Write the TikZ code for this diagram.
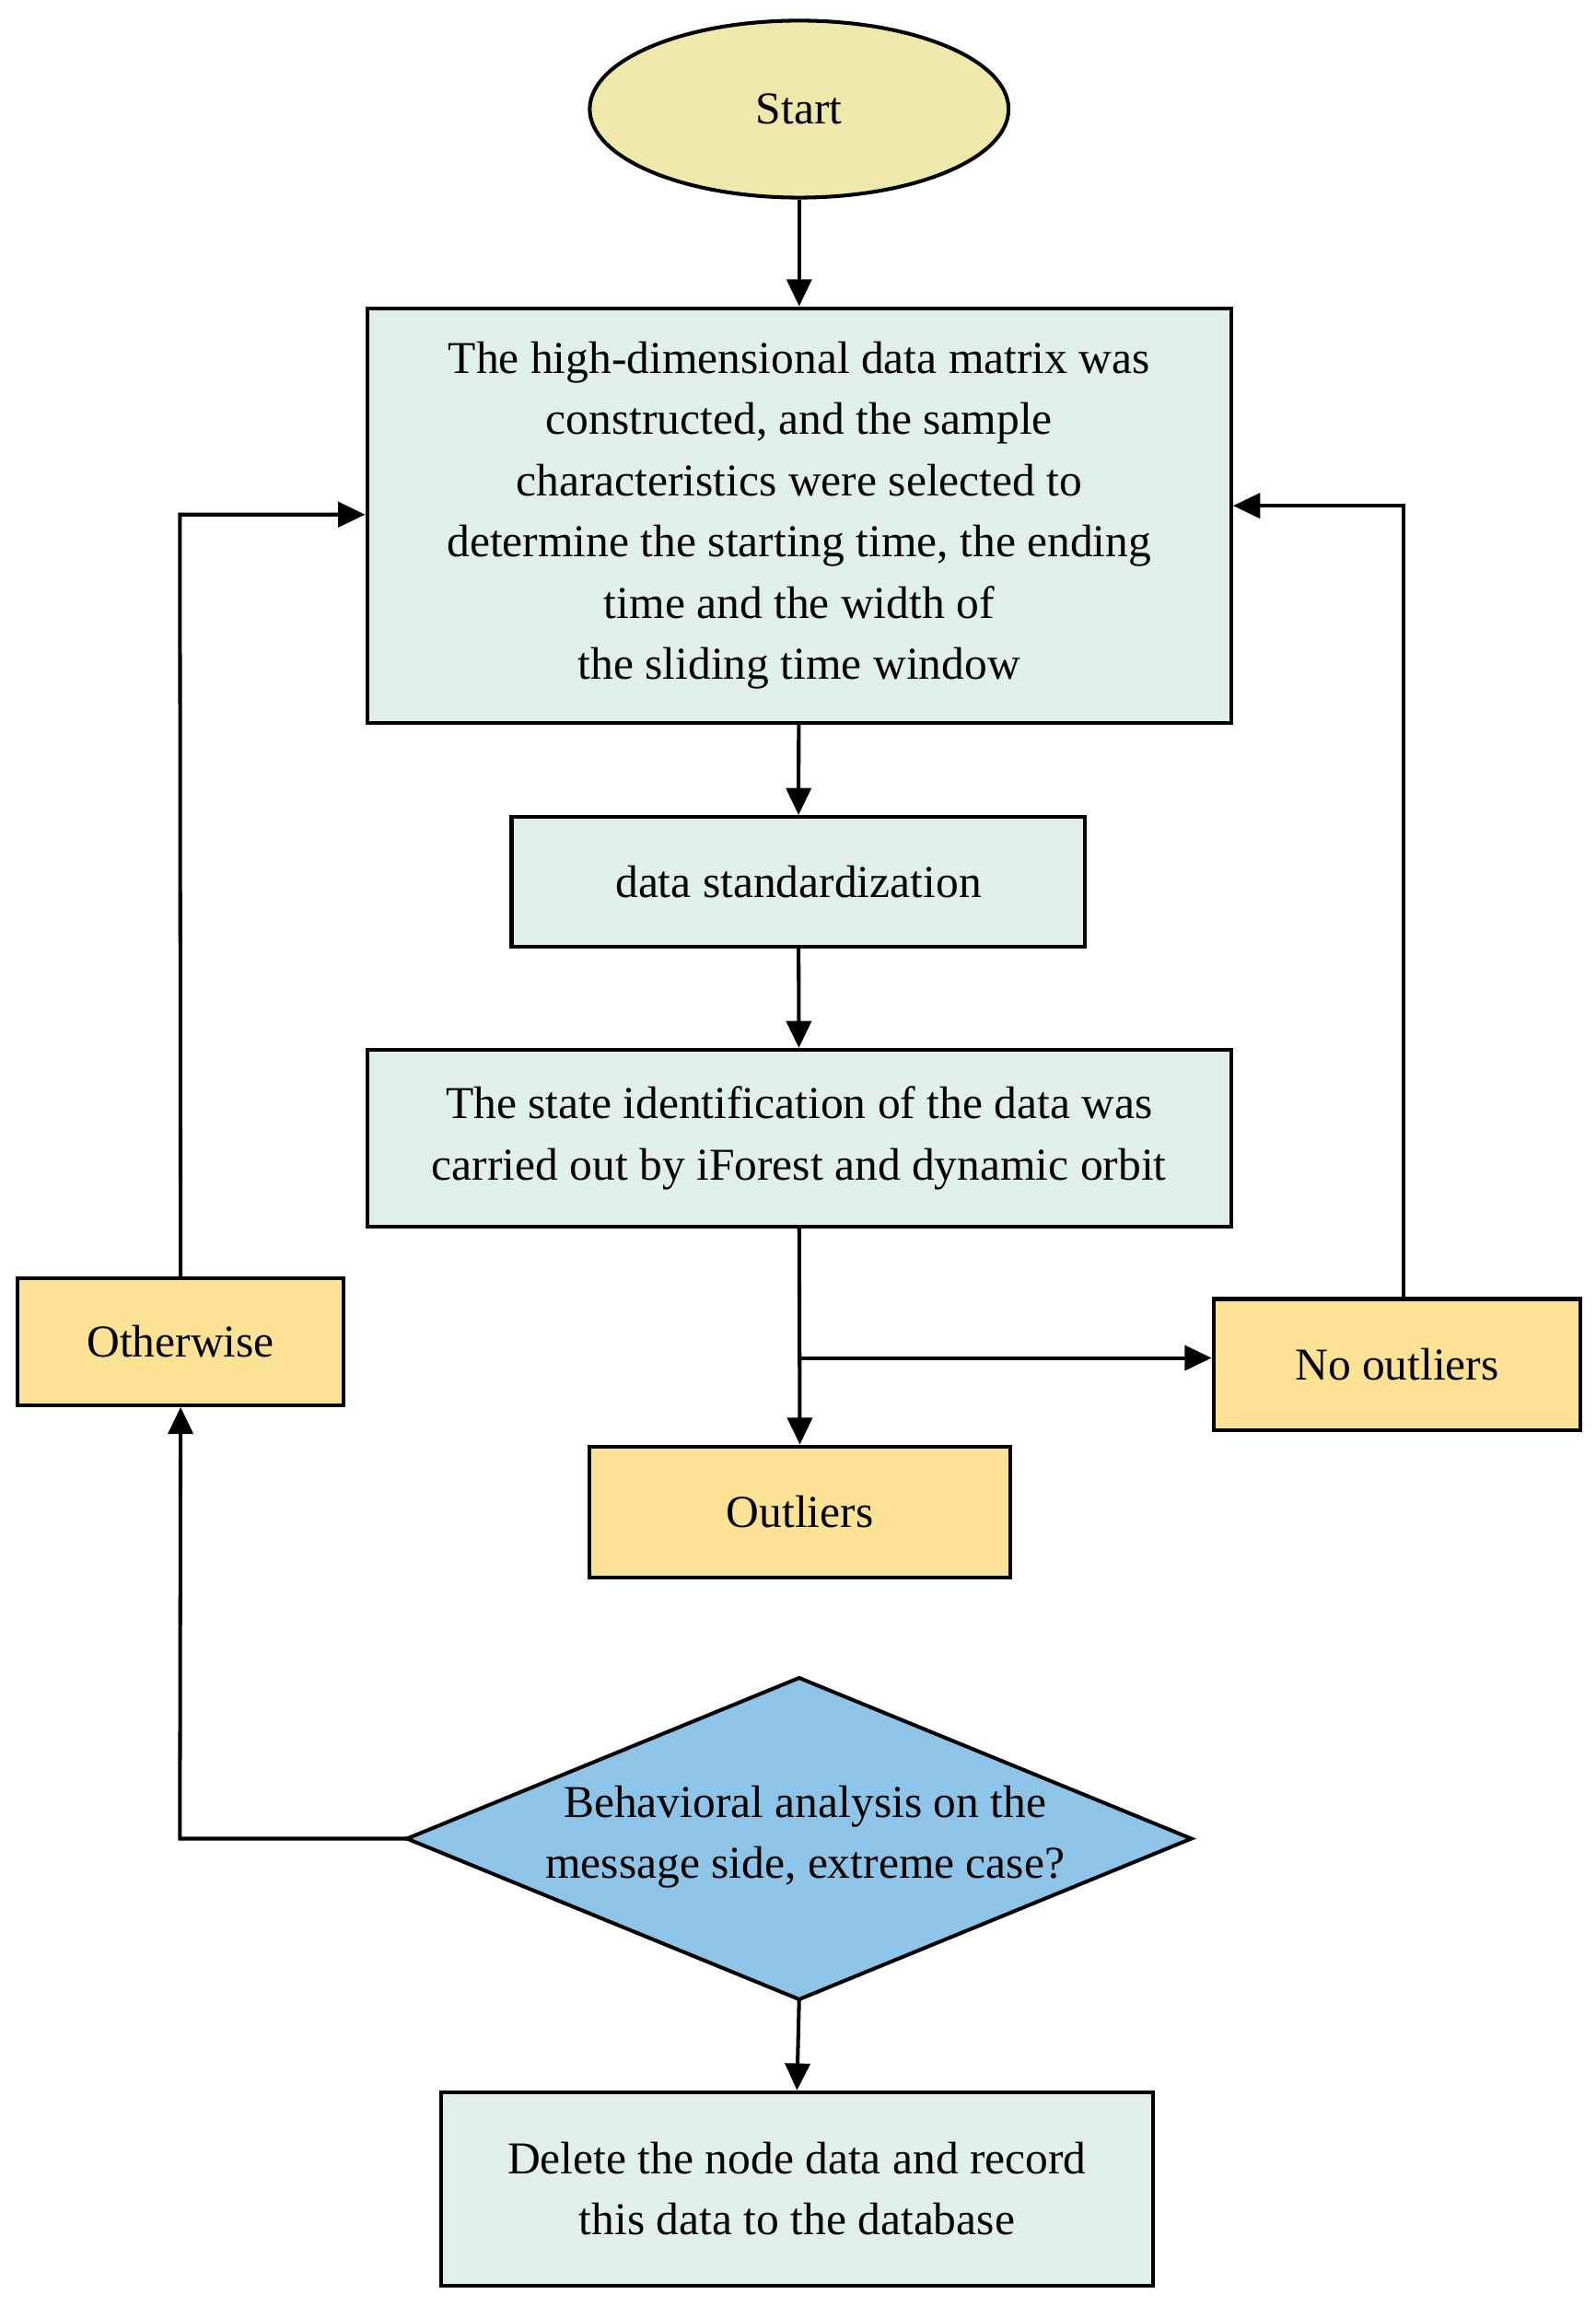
\documentclass[tikz,border=0pt]{standalone}
\usepackage{fontspec}
\setmainfont{Liberation Serif}
\usetikzlibrary{arrows.meta,shapes.geometric}
\definecolor{boxc}{RGB}{224,238,236}
\definecolor{yel}{RGB}{253,226,150}
\definecolor{starty}{RGB}{238,232,170}
\definecolor{dia}{RGB}{142,196,232}
\begin{document}
\begin{tikzpicture}[x=0.025cm,y=-0.025cm,
  every node/.style={font=\fontsize{22}{29.5}\selectfont},
  box/.style={draw,line width=1.8pt,fill=boxc,align=center,inner sep=0pt},
  ybox/.style={draw,line width=1.8pt,fill=yel,align=center,inner sep=0pt},
  arr/.style={line width=1.8pt,-{Triangle[length=13pt,width=12pt]}}]
\useasboundingbox (0,0) rectangle (1082,1564);
\node[draw,ellipse,line width=1.8pt,fill=starty,minimum width=7.1cm,minimum height=3cm] (start) at (542,74) {Start};
\node[box,minimum width=14.65cm,minimum height=7.025cm] (b1) at (542,349.5) {The high-dimensional data matrix was\\constructed, and the sample\\characteristics were selected to\\determine the starting time, the ending\\time and the width of\\the sliding time window};
\node[box,minimum width=9.725cm,minimum height=2.2cm] (b2) at (541.5,598) {data standardization};
\node[box,minimum width=14.65cm,minimum height=3cm] (b3) at (542,772) {The state identification of the data was\\carried out by iForest and dynamic orbit};
\node[ybox,minimum width=6.225cm,minimum height=2.225cm] (no) at (947.5,925.5) {No outliers};
\node[ybox,minimum width=5.525cm,minimum height=2.15cm] (oth) at (122.5,910) {Otherwise};
\node[ybox,minimum width=7.125cm,minimum height=2.225cm] (out) at (542.5,1025.5) {Outliers};
\coordinate (dt) at (542,1138);
\coordinate (db) at (542,1356);
\coordinate (dl) at (276,1247);
\coordinate (dr) at (808,1247);
\draw[line width=1.8pt,fill=dia] (dt) -- (dr) -- (db) -- (dl) -- cycle;
\node[align=center] (dtext) at (546,1246) {Behavioral analysis on the\\message side, extreme case?};
\node[box,minimum width=12.075cm,minimum height=3.275cm] (fin) at (540.5,1484.5) {Delete the node data and record\\this data to the database};
\coordinate (br) at (542,921);
\draw[arr] (start) -- (b1);
\draw[arr] (b1) -- (b2);
\draw[arr] (b2) -- (b3);
\draw[arr] (b3.south) -- (out.north);
\draw[arr] (br) -- (no.west |- br);
\draw[arr] (no.north -| 952,0) -- (952,343) -- (b1.east |- 0,343);
\draw[arr] (dl) -- (122,1247) -- (oth.south);
\draw[arr] (oth.north) -- (122,349) -- (b1.west |- 0,349);
\draw[arr] (db) -- (fin.north);
\end{tikzpicture}
\end{document}
